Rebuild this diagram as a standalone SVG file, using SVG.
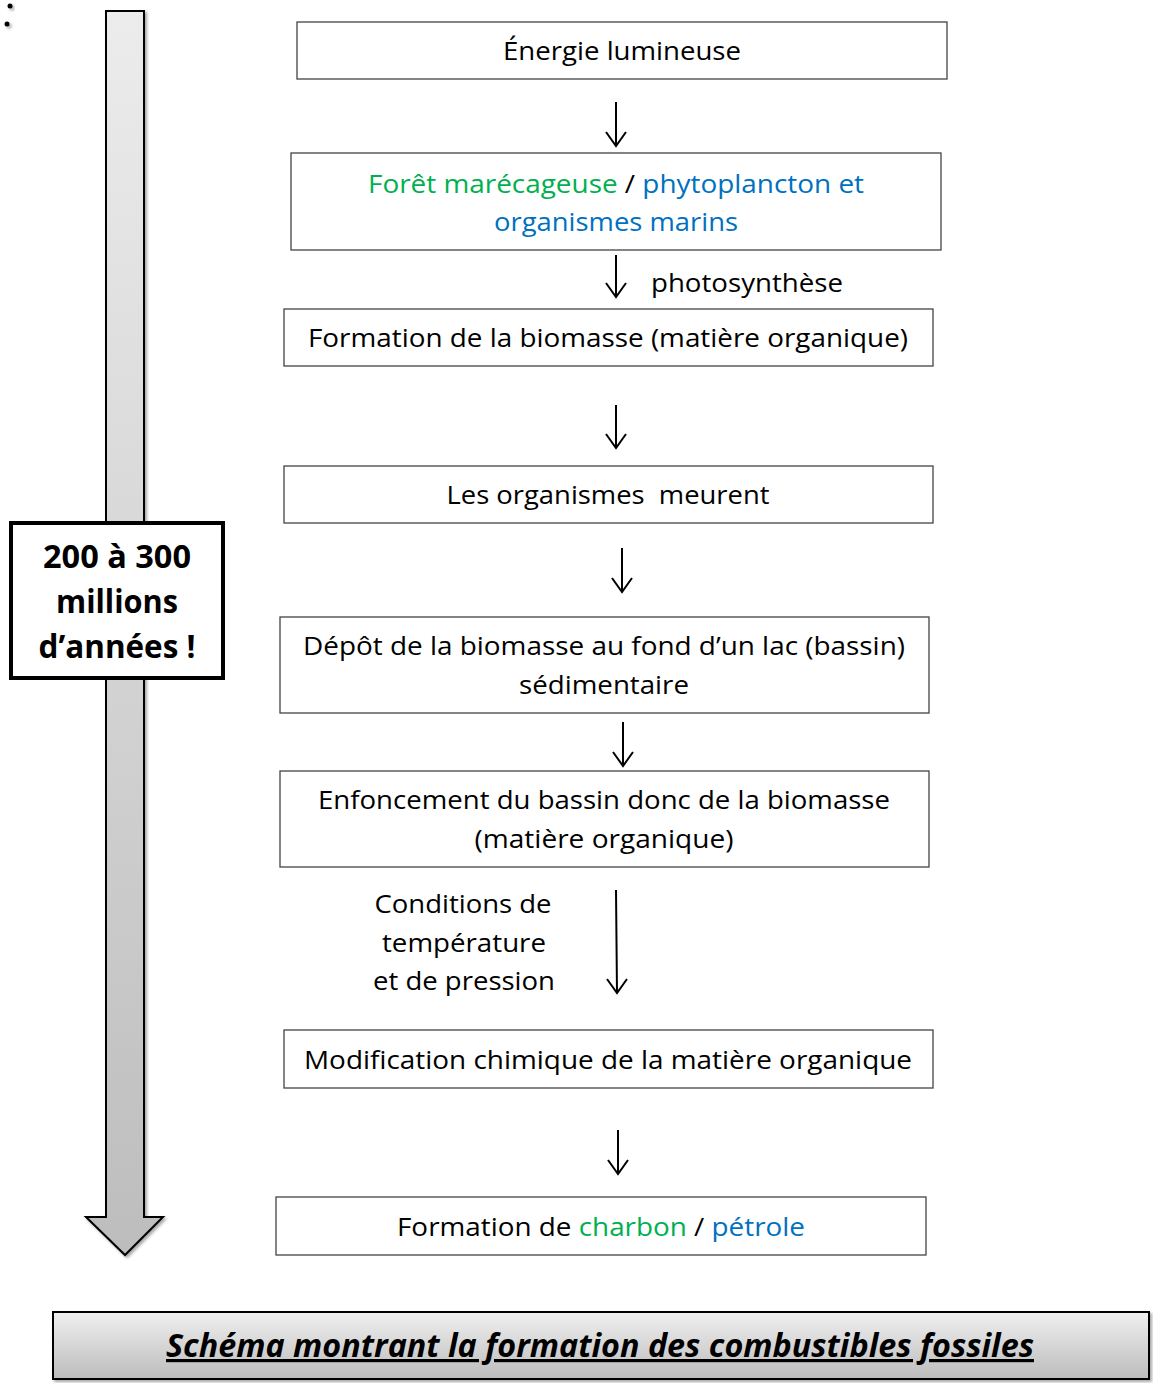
<svg xmlns="http://www.w3.org/2000/svg" width="1153" height="1383" viewBox="0 0 1153 1383">
<style>
.box{fill:#fff;stroke:#444;stroke-width:1.3}
.t{font-family:"Open Sans","Liberation Sans",sans-serif;font-size:26px;fill:#000;text-anchor:middle}
.g{fill:#00b050}
.b{fill:#0070c0}
.conn{stroke:#000;stroke-width:2;fill:none}
.bold{font-family:"Open Sans","Liberation Sans",sans-serif;font-weight:bold;font-size:32px;text-anchor:middle}
</style>
<defs>
<linearGradient id="ga" x1="0" y1="0" x2="0" y2="1">
<stop offset="0" stop-color="#ececec"/><stop offset="1" stop-color="#bdbdbd"/>
</linearGradient>
<linearGradient id="gt" x1="0" y1="0" x2="0" y2="1">
<stop offset="0" stop-color="#f0f0f0"/><stop offset="1" stop-color="#bcbcbc"/>
</linearGradient>
<filter id="sh" x="-20%" y="-20%" width="140%" height="140%">
<feDropShadow dx="2" dy="2" stdDeviation="1.5" flood-color="#000" flood-opacity="0.35"/>
</filter>
</defs>
<g id="dots" filter="url(#sh)"><circle cx="10" cy="6" r="2.5"/><circle cx="7" cy="24" r="2.5"/></g>
<g id="timeline" filter="url(#sh)">
<path d="M106 11 H144 V1217 H163 L125 1255 L86 1217 H106 Z" fill="url(#ga)" stroke="#000" stroke-width="2"/>
</g>
<g id="duration">
<rect x="11" y="523" width="212" height="155" fill="#fff" stroke="#000" stroke-width="4"/>
<text class="bold" x="117" y="568" textLength="148" lengthAdjust="spacingAndGlyphs">200 à 300</text>
<text class="bold" x="117" y="613" textLength="122" lengthAdjust="spacingAndGlyphs">millions</text>
<text class="bold" x="117" y="658" textLength="157" lengthAdjust="spacingAndGlyphs">d’années !</text>
</g>
<g id="n1"><rect class="box" x="297" y="22" width="650" height="57"/>
<text class="t" x="622" y="60" textLength="238" lengthAdjust="spacingAndGlyphs">Énergie lumineuse</text></g>
<g id="n2"><rect class="box" x="291" y="153" width="650" height="97"/>
<text class="t" x="616" y="193" textLength="496" lengthAdjust="spacingAndGlyphs"><tspan class="g">Forêt marécageuse</tspan> / <tspan class="b">phytoplancton et</tspan></text>
<text class="t b" x="616" y="231" textLength="244" lengthAdjust="spacingAndGlyphs">organismes marins</text></g>
<g id="n3"><rect class="box" x="284" y="309" width="649" height="57"/>
<text class="t" x="608" y="347" textLength="600" lengthAdjust="spacingAndGlyphs">Formation de la biomasse (matière organique)</text></g>
<g id="n4"><rect class="box" x="284" y="466" width="649" height="57"/>
<text class="t" x="608" y="504" textLength="323" lengthAdjust="spacingAndGlyphs" xml:space="preserve">Les organismes  meurent</text></g>
<g id="n5"><rect class="box" x="280" y="617" width="649" height="96"/>
<text class="t" x="604" y="655" textLength="602" lengthAdjust="spacingAndGlyphs">Dépôt de la biomasse au fond d’un lac (bassin)</text>
<text class="t" x="604" y="694" textLength="170" lengthAdjust="spacingAndGlyphs">sédimentaire</text></g>
<g id="n6"><rect class="box" x="280" y="771" width="649" height="96"/>
<text class="t" x="604" y="809" textLength="572" lengthAdjust="spacingAndGlyphs">Enfoncement du bassin donc de la biomasse</text>
<text class="t" x="604" y="848" textLength="259" lengthAdjust="spacingAndGlyphs">(matière organique)</text></g>
<g id="n7"><rect class="box" x="284" y="1030" width="649" height="58"/>
<text class="t" x="608" y="1069" textLength="608" lengthAdjust="spacingAndGlyphs">Modification chimique de la matière organique</text></g>
<g id="n8"><rect class="box" x="276" y="1197" width="650" height="58"/>
<text class="t" x="601" y="1236" textLength="408" lengthAdjust="spacingAndGlyphs">Formation de <tspan class="g">charbon</tspan> / <tspan class="b">pétrole</tspan></text></g>
<g id="connectors">
<path class="conn" d="M616 102 V146 M606 132 L616 146 L626 132"/>
<path class="conn" d="M616 255 V297 M606 283 L616 297 L626 283"/>
<path class="conn" d="M616 405 V448 M606 434 L616 448 L626 434"/>
<path class="conn" d="M622 548 V592 M612 578 L622 592 L632 578"/>
<path class="conn" d="M623 722 V766 M613 752 L623 766 L633 752"/>
<path class="conn" d="M616 890 L617 993 M607 979 L617 993 L627 979"/>
<path class="conn" d="M618 1130 V1174 M608 1160 L618 1174 L628 1160"/>
</g>
<g id="labels">
<text class="t" x="747" y="292" textLength="192" lengthAdjust="spacingAndGlyphs">photosynthèse</text>
<text class="t" x="463" y="913" textLength="177" lengthAdjust="spacingAndGlyphs">Conditions de</text>
<text class="t" x="464" y="952" textLength="164" lengthAdjust="spacingAndGlyphs">température</text>
<text class="t" x="464" y="990" textLength="182" lengthAdjust="spacingAndGlyphs">et de pression</text>
</g>
<g id="title">
<rect x="53" y="1312" width="1096" height="67" fill="url(#gt)" stroke="#000" stroke-width="2" filter="url(#sh)"/>
<text x="600" y="1357" font-family="'Open Sans','Liberation Sans',sans-serif" font-weight="bold" font-style="italic" font-size="32" text-anchor="middle" text-decoration="underline" textLength="868" lengthAdjust="spacingAndGlyphs">Schéma montrant la formation des combustibles fossiles</text>
</g>
</svg>
